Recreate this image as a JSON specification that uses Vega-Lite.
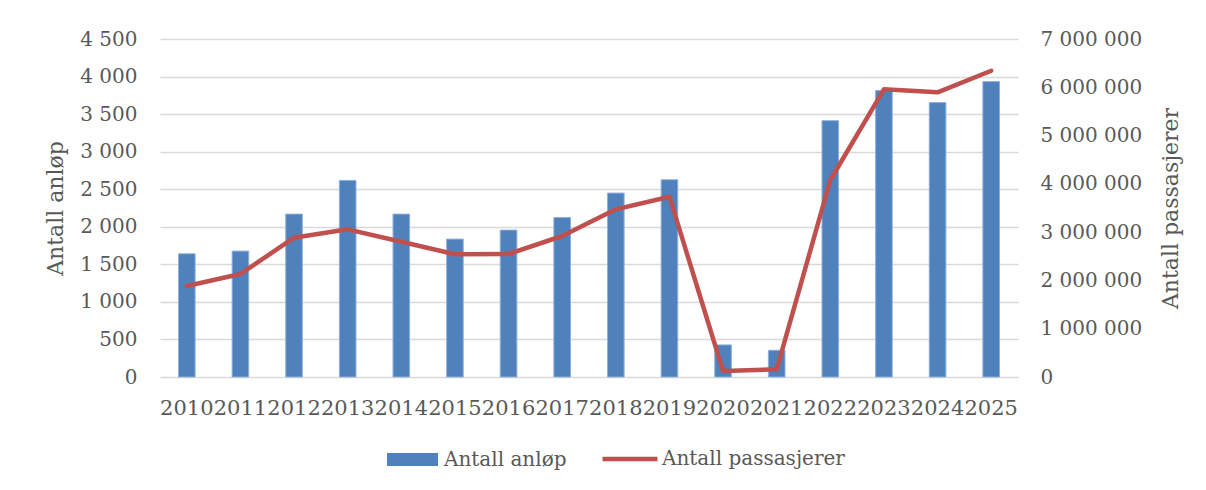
{
  "$schema": "https://vega.github.io/schema/vega-lite/v6.json",
  "width": 858,
  "height": 338,
  "autosize": {"type": "none"},
  "padding": {"left": 160, "top": 39, "right": 188, "bottom": 113},
  "background": "white",
  "config": {
    "locale": {"number": {"decimal": ",", "thousands": " ", "grouping": [3], "currency": ["", " kr"]}},
    "font": "DejaVu Serif",
    "view": {"stroke": null},
    "axis": {
      "labelFont": "DejaVu Serif",
      "labelFontSize": 20,
      "labelColor": "#595959",
      "titleFont": "DejaVu Serif",
      "titleFontSize": 22,
      "titleFontWeight": "normal",
      "titleColor": "#595959",
      "ticks": false,
      "domain": false
    },
    "legend": {
      "labelFont": "DejaVu Serif",
      "labelFontSize": 20,
      "labelColor": "#595959",
      "labelLimit": 400
    }
  },
  "data": {
    "values": [
      {"year": "2010", "anlop": 1640, "passasjerer": 1884000},
      {"year": "2011", "anlop": 1676, "passasjerer": 2133000},
      {"year": "2012", "anlop": 2169, "passasjerer": 2885000},
      {"year": "2013", "anlop": 2617, "passasjerer": 3058000},
      {"year": "2014", "anlop": 2169, "passasjerer": 2802000},
      {"year": "2015", "anlop": 1836, "passasjerer": 2541000},
      {"year": "2016", "anlop": 1956, "passasjerer": 2547000},
      {"year": "2017", "anlop": 2124, "passasjerer": 2920000},
      {"year": "2018", "anlop": 2449, "passasjerer": 3472000},
      {"year": "2019", "anlop": 2626, "passasjerer": 3734000},
      {"year": "2020", "anlop": 427, "passasjerer": 124000},
      {"year": "2021", "anlop": 356, "passasjerer": 159000},
      {"year": "2022", "anlop": 3413, "passasjerer": 4080000},
      {"year": "2023", "anlop": 3813, "passasjerer": 5957000},
      {"year": "2024", "anlop": 3653, "passasjerer": 5895000},
      {"year": "2025", "anlop": 3933, "passasjerer": 6343000}
    ]
  },
  "encoding": {
    "x": {
      "field": "year",
      "type": "nominal",
      "sort": null,
      "scale": {"paddingInner": 0, "paddingOuter": 0},
      "axis": {"title": null, "labelAngle": 0, "labelOverlap": false, "labelPadding": 20, "labelFontSize": 21, "grid": false, "labelBound": false}
    }
  },
  "layer": [
    {
      "mark": {"type": "bar", "width": {"band": 0.31}, "fill": "#4f81bd", "stroke": "#8fb0da", "strokeWidth": 1},
      "encoding": {
        "y": {
          "field": "anlop",
          "type": "quantitative",
          "scale": {"domain": [0, 4500], "nice": false},
          "axis": {
            "title": "Antall anløp",
            "values": [0, 500, 1000, 1500, 2000, 2500, 3000, 3500, 4000, 4500],
            "format": ",d",
            "grid": true,
            "gridColor": "#d9d9d9",
            "gridWidth": 1.5,
            "labelPadding": 23,
            "titlePadding": 12
          }
        },
        "color": {
          "datum": "Antall anløp",
          "type": "nominal",
          "scale": {"range": ["#4f81bd"]},
          "legend": {
            "title": null,
            "orient": "none",
            "legendX": 227,
            "legendY": 395,
            "symbolType": "M-1,-0.255H1V0.255H-1Z",
            "symbolSize": 2601,
            "symbolStrokeWidth": 0,
            "labelOffset": 6
          }
        }
      }
    },
    {
      "mark": {"type": "line", "color": "#c0504d", "strokeWidth": 4.5, "strokeCap": "round", "strokeJoin": "round"},
      "encoding": {
        "y": {
          "field": "passasjerer",
          "type": "quantitative",
          "scale": {"domain": [0, 7000000], "nice": false},
          "axis": {
            "title": "Antall passasjerer",
            "orient": "right",
            "values": [0, 1000000, 2000000, 3000000, 4000000, 5000000, 6000000, 7000000],
            "format": ",d",
            "grid": false,
            "labelPadding": 22,
            "titleAngle": 270,
            "titlePadding": 41
          }
        },
        "color": {
          "datum": "Antall passasjerer",
          "type": "nominal",
          "scale": {"range": ["#c0504d"]},
          "legend": {
            "title": null,
            "orient": "none",
            "legendX": 440,
            "legendY": 390,
            "symbolType": "stroke",
            "symbolSize": 3025,
            "symbolStrokeWidth": 4.5,
            "labelOffset": 2
          }
        }
      }
    }
  ],
  "resolve": {"scale": {"y": "independent", "color": "independent"}, "legend": {"color": "independent"}}
}
